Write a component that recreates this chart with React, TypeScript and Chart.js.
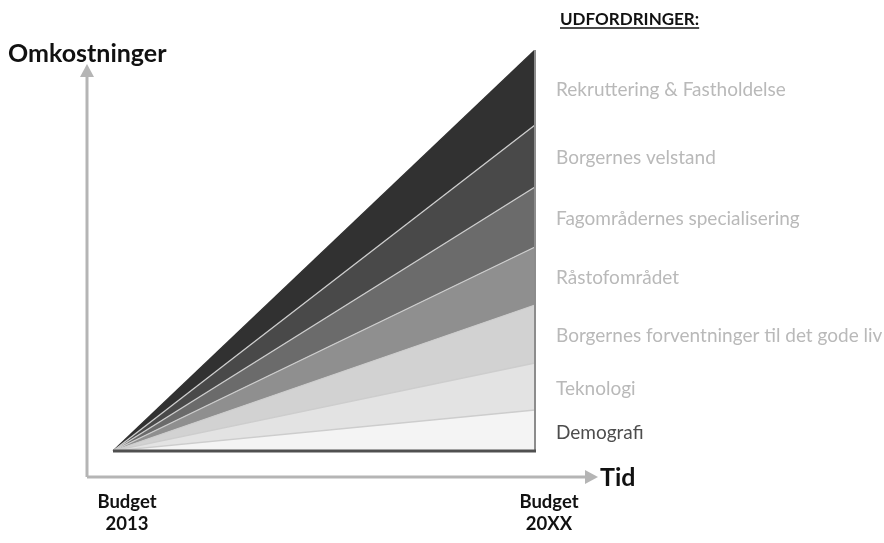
import React, { useEffect, useRef } from 'react';
import { Chart, registerables } from 'chart.js';

Chart.register(...registerables);

// ---- Data ----
const periods = ['Budget 2013', 'Budget 20XX'];
const periodLines = [['Budget', '2013'], ['Budget', '20XX']];
const challenges = [
  'Demografi',
  'Teknologi',
  'Borgernes forventninger til det gode liv',
  'Råstofområdet',
  'Fagområdernes specialisering',
  'Borgernes velstand',
  'Rekruttering & Fastholdelse',
];
const startValues = [0, 0, 0, 0, 0, 0, 0];
const endValues = [41, 47, 58, 58, 60, 62, 75];
const yTitle = 'Omkostninger';
const xTitle = 'Tid';
const legendTitle = 'UDFORDRINGER:';

// ---- Styles ----
const bandColors = ['#f4f4f4', '#e3e3e3', '#d2d2d2', '#8f8f8f', '#6b6b6b', '#494949', '#313131'];
const labelColors = ['#4d4d4d', '#b9b9b9', '#b9b9b9', '#b9b9b9', '#b9b9b9', '#b9b9b9', '#b9b9b9'];
const FONT = 'Lato, "Open Sans", sans-serif';

const decorPlugin = {
  id: 'decor',
  afterDraw(chart: any) {
    const { ctx, chartArea, scales } = chart;
    const xs = scales.x;
    const ys = scales.y;
    const x0 = xs.getPixelForValue(0);
    const x1 = xs.getPixelForValue(periods.length - 1);
    const yb = ys.getPixelForValue(0);
    const total = endValues.reduce((a, b) => a + b, 0);
    const yt = ys.getPixelForValue(total);
    ctx.save();

    // right edge
    ctx.strokeStyle = '#8c8c8c';
    ctx.lineWidth = 2;
    ctx.beginPath();
    ctx.moveTo(x1, yt);
    ctx.lineTo(x1, yb);
    ctx.stroke();

    // bottom dark line
    ctx.strokeStyle = '#505050';
    ctx.lineWidth = 3;
    ctx.beginPath();
    ctx.moveTo(x0, yb);
    ctx.lineTo(x1 + 1, yb);
    ctx.stroke();

    // axes arrows
    const ax = x0 - 26;
    const ay = yb + 26;
    const topTip = chartArea.top + 14;
    const rightTip = x1 + 63;
    ctx.strokeStyle = '#b5b5b5';
    ctx.fillStyle = '#b5b5b5';
    ctx.lineWidth = 3;
    ctx.beginPath();
    ctx.moveTo(ax, ay);
    ctx.lineTo(ax, topTip + 10);
    ctx.moveTo(ax, ay);
    ctx.lineTo(rightTip - 10, ay);
    ctx.stroke();
    ctx.beginPath();
    ctx.moveTo(ax, topTip);
    ctx.lineTo(ax - 7, topTip + 13);
    ctx.lineTo(ax + 7, topTip + 13);
    ctx.closePath();
    ctx.fill();
    ctx.beginPath();
    ctx.moveTo(rightTip, ay);
    ctx.lineTo(rightTip - 13, ay - 7);
    ctx.lineTo(rightTip - 13, ay + 7);
    ctx.closePath();
    ctx.fill();

    // titles
    ctx.fillStyle = '#111111';
    ctx.textBaseline = 'alphabetic';
    ctx.textAlign = 'left';
    ctx.font = `bold 25px ${FONT}`;
    ctx.fillText(yTitle, 8, 62);
    ctx.font = `bold 25px ${FONT}`;
    ctx.fillText(xTitle, rightTip + 2, ay + 9);

    // legend title, underlined
    ctx.font = `bold 17px ${FONT}`;
    ctx.fillText(legendTitle, 560, 25);
    const w = ctx.measureText(legendTitle).width;
    ctx.strokeStyle = '#111111';
    ctx.lineWidth = 1.5;
    ctx.beginPath();
    ctx.moveTo(560, 28);
    ctx.lineTo(560 + w, 28);
    ctx.stroke();

    // challenge labels at band mid-points on the right edge
    ctx.font = `19px ${FONT}`;
    ctx.textBaseline = 'middle';
    let cum = 0;
    challenges.forEach((name, i) => {
      const lo = cum;
      cum += endValues[i];
      const mid = (ys.getPixelForValue(lo) + ys.getPixelForValue(cum)) / 2;
      ctx.fillStyle = labelColors[i];
      ctx.fillText(name, 556, mid + 2);
    });

    // period labels
    ctx.textAlign = 'center';
    ctx.textBaseline = 'alphabetic';
    ctx.fillStyle = '#111111';
    periodLines.forEach((lines, i) => {
      const px = xs.getPixelForValue(i) + 14;
      ctx.font = `bold 18.5px ${FONT}`;
      ctx.fillText(lines[0], px, ay + 31);
      ctx.fillText(lines[1], px, ay + 53);
    });

    ctx.restore();
  },
};

export default function App() {
  const ref = useRef<HTMLCanvasElement>(null);
  useEffect(() => {
    if (!ref.current) return;
    const datasets = challenges.map((name, i) => ({
      label: name,
      data: [startValues[i], endValues[i]],
      backgroundColor: bandColors[i],
      borderColor: i === challenges.length - 1 ? bandColors[i] : '#cdcdcd',
      borderWidth: 1.3,
      fill: i === 0 ? 'origin' : '-1',
      pointRadius: 0,
      tension: 0,
    }));
    const total = endValues.reduce((a, b) => a + b, 0);
    const chart = new Chart(ref.current, {
      type: 'line',
      data: { labels: periods, datasets },
      options: {
        responsive: false,
        animation: false,
        layout: { padding: { left: 113, right: 349, top: 50, bottom: 92 } },
        plugins: { legend: { display: false }, tooltip: { enabled: false } },
        scales: {
          x: { display: false, offset: false },
          y: { display: false, stacked: true, min: 0, max: total },
        },
      },
      plugins: [decorPlugin],
    });
    return () => chart.destroy();
  }, []);
  return (
    <div style={{ position: 'fixed', left: 0, top: 0, width: 884, height: 543, background: '#fff' }}>
      <canvas ref={ref} width={884} height={543} />
    </div>
  );
}
